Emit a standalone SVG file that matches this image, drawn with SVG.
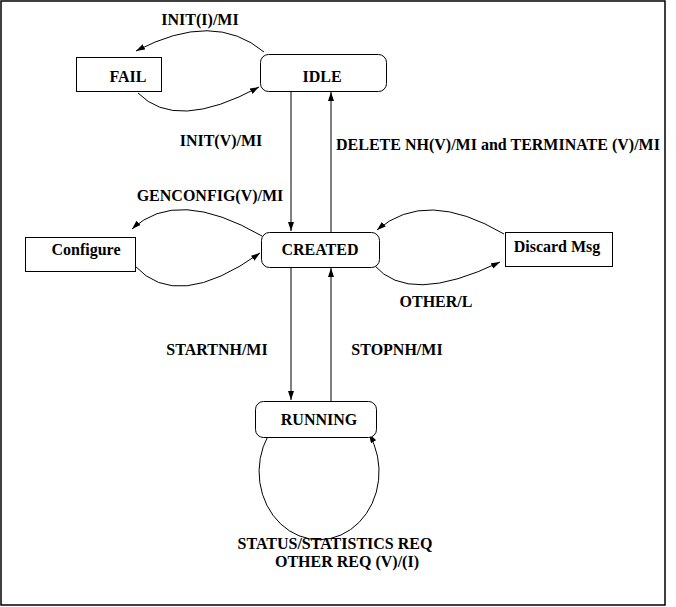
<svg xmlns="http://www.w3.org/2000/svg" width="676" height="607" viewBox="0 0 676 607">
<defs>
<marker id="ah" markerWidth="9" markerHeight="6" refX="9" refY="3" orient="auto" markerUnits="userSpaceOnUse">
<path d="M0,0 L9,3 L0,6 z" fill="#000"/>
</marker>
<style>
.box{fill:#fff;stroke:#000;stroke-width:1}
.c{fill:none;stroke:#000;stroke-width:1;marker-end:url(#ah)}
text{font-family:"Liberation Serif","Times New Roman",serif;font-weight:bold;font-size:16px;fill:#000;text-anchor:middle}
</style>
</defs>
<rect x="0" y="0" width="676" height="607" fill="#fff"/>
<rect x="1" y="1" width="664" height="604" fill="none" stroke="#000" stroke-width="1.5"/>
<g id="connectors">
<path class="c" d="M264,52 Q214,10 136,51"/>
<path class="c" d="M138,93 Q176,132 259,87"/>
<path class="c" d="M291,91 L291,231"/>
<path class="c" d="M331,232 L331,92"/>
<path class="c" d="M262,236 Q177,187 132,229"/>
<path class="c" d="M135,266 Q177,312 260,253"/>
<path class="c" d="M504,234 Q426,188 377,230"/>
<path class="c" d="M374,265 Q409,306 500,262"/>
<path class="c" d="M291,267 L291,400"/>
<path class="c" d="M331,401 L331,268"/>
<path class="c" d="M268,436 A60,68 0 1,0 369,434"/>
<text x="200" y="25">INIT(I)/MI</text>
<text x="221" y="146">INIT(V)/MI</text>
<text x="498" y="150">DELETE NH(V)/MI and TERMINATE (V)/MI</text>
<text x="210" y="201">GENCONFIG(V)/MI</text>
<text x="436" y="307">OTHER/L</text>
<text x="217" y="355">STARTNH/MI</text>
<text x="397" y="355">STOPNH/MI</text>
<text x="335" y="549">STATUS/STATISTICS REQ</text>
<text x="347" y="567">OTHER REQ (V)/(I)</text>
</g>
<g id="fail"><rect class="box" x="76.5" y="57.5" width="85" height="34"/><text x="128" y="82">FAIL</text></g>
<g id="idle"><rect class="box" x="260.5" y="54.5" width="126" height="37" rx="8"/><text x="322" y="82">IDLE</text></g>
<g id="configure"><rect class="box" x="25.5" y="237.5" width="110" height="34"/><text x="86" y="255">Configure</text></g>
<g id="created"><rect class="box" x="261.5" y="232.5" width="118" height="35" rx="8"/><text x="320" y="255">CREATED</text></g>
<g id="discard"><rect class="box" x="505.5" y="232.5" width="107" height="34"/><text x="557" y="252">Discard Msg</text></g>
<g id="running"><rect class="box" x="255.5" y="401.5" width="121" height="36" rx="8"/><text x="319" y="425">RUNNING</text></g>
</svg>
